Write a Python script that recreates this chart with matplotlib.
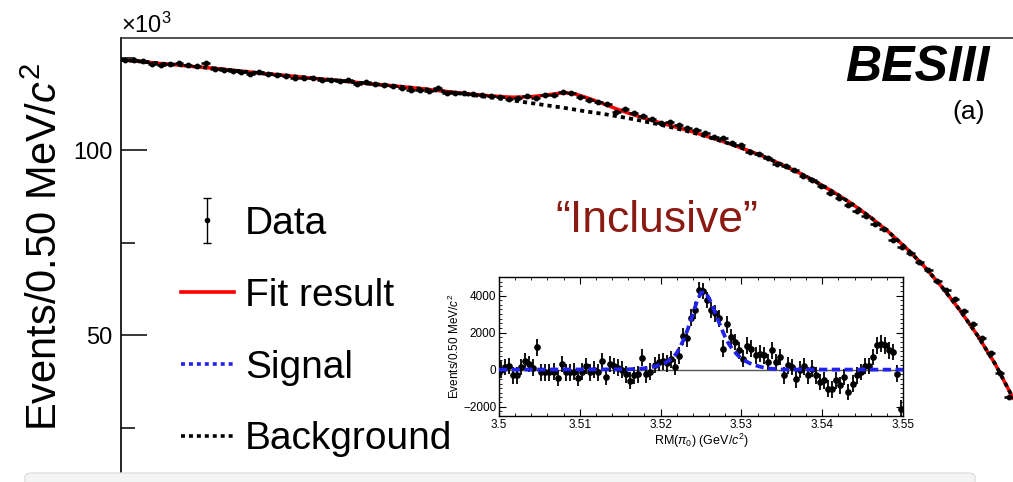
import numpy as np
import matplotlib
matplotlib.use('Agg')
import matplotlib.pyplot as plt
from matplotlib.lines import Line2D
from matplotlib.ticker import MultipleLocator, FuncFormatter
from matplotlib.legend_handler import HandlerErrorbar
from matplotlib.patches import FancyBboxPatch

plt.rcParams['font.family'] = ['Liberation Sans', 'DejaVu Sans']
plt.rcParams['mathtext.fontset'] = 'custom'
plt.rcParams['mathtext.rm'] = 'Liberation Sans'
plt.rcParams['mathtext.it'] = 'Liberation Sans:italic'
plt.rcParams['mathtext.bf'] = 'Liberation Sans:bold'

# 100 bins of 0.5 MeV between 3.50 and 3.55 GeV
x_lo = 3.50
bin_w = 0.0005
n_bins = 100

# main histogram, x10^3 events per bin
data_k = [124.3, 124.25, 124.1, 123.3, 123.1, 123.35, 123.45, 123.0, 122.6, 123.5,
          121.95, 121.65, 121.45, 121.2, 120.65, 121.1, 120.45, 120.25, 120.1, 119.45,
          119.6, 119.6, 119.05, 119.0, 118.65, 118.95, 117.9, 118.3, 118.0, 117.7,
          117.4, 116.85, 116.3, 116.3, 116.1, 116.7, 115.5, 115.35, 115.4, 115.25,
          115.0, 114.6, 114.45, 113.75, 113.95, 114.7, 114.2, 115.0, 115.0, 115.8,
          115.35, 114.46, 113.52, 113.04, 112.37, 110.34, 111.24, 110.07, 109.35, 108.4,
          107.4, 107.59, 106.84, 105.88, 105.32, 104.53, 103.42, 103.35, 101.92, 101.29,
          99.4, 99.04, 97.95, 96.18, 95.6, 94.68, 93.0, 92.05, 90.3, 88.53,
          87.12, 85.17, 83.43, 82.22, 80.05, 78.6, 75.69, 73.94, 72.1, 69.77,
          67.5, 64.7, 62.29, 59.82, 56.61, 53.02, 49.15, 45.16, 39.68, 33.2]
data_err_k = 0.45

# inset: data minus background (events)
resid = [0, 150, 200, -300, -300, 150, 450, 300, 100, 1200,
         -150, -150, -150, -100, -450, 300, -150, -150, -100, -450,
         -100, 200, -150, 0, -150, 450, -400, 300, 200, 100,
         0, -250, -600, -300, -250, 650, -250, -100, 250, 400,
         450, 350, 550, 150, 750, 1800, 1700, 2800, 3200, 4300,
         4250, 3760, 3220, 3040, 2770, 1140, 2440, 1770, 1500, 1050,
         600, 1290, 1140, 780, 870, 780, 420, 1050, 420, 690,
         -300, 235, 145, -520, 0, 180, -300, 50, -300, -670,
         -580, -1030, -1070, -580, -850, -400, -1210, -760, -300, -130,
         200, 200, 690, 1320, 1410, 1320, 1050, 960, -220, -2100]
resid_err = 450

# fitted curves on a grid (MeV above 3.50 GeV)
curve_mev = np.r_[0:16, 16:34.5:0.5, 35:51]
bkg_k = [124.4, 124.0, 123.5, 123.1, 122.6, 122.2, 121.7, 121.2, 120.7, 120.3,
         119.8, 119.3, 118.9, 118.4, 117.9, 117.5,
         117.0, 116.75, 116.5, 116.2, 115.9, 115.6, 115.3, 115.0, 114.7, 114.4,
         114.1, 113.75, 113.4, 113.05, 112.7, 112.35, 112.0, 111.65, 111.3, 110.9,
         110.5, 110.15, 109.8, 109.4, 109.0, 108.55, 108.1, 107.6, 107.1, 106.55,
         106.0, 105.4, 104.8, 104.1, 103.4, 102.65, 101.9,
         100.2, 98.3, 96.2, 93.9, 91.3, 88.5, 85.4, 81.9, 78.0, 73.6,
         68.7, 63.1, 56.9, 50.0, 42.2, 33.0]
fit_k = [124.4, 124.0, 123.5, 123.1, 122.6, 122.2, 121.7, 121.2, 120.7, 120.3,
         119.8, 119.3, 118.9, 118.4, 117.9, 117.5,
         117.02, 116.78, 116.54, 116.25, 115.98, 115.7, 115.45, 115.2, 114.97, 114.75,
         114.58, 114.4, 114.3, 114.35, 114.45, 114.7, 115.0, 115.35, 115.45, 115.1,
         114.35, 113.5, 112.6, 111.65, 110.75, 109.9, 109.15, 108.4, 107.7, 107.02,
         106.35, 105.67, 105.0, 104.24, 103.5, 102.71, 101.94,
         100.2, 98.3, 96.2, 93.9, 91.3, 88.5, 85.4, 81.9, 78.0, 73.6,
         68.7, 63.1, 56.9, 50.0, 42.2, 33.0]

sig_mev = np.r_[0, 16:34.5:0.5, 35, 50]
sig = [0,
       20, 30, 35, 50, 75, 100, 150, 200, 270, 350,
       480, 650, 900, 1300, 1750, 2350, 3000, 3700, 4150, 4200,
       3850, 3350, 2800, 2250, 1750, 1350, 1050, 800, 600, 470,
       350, 270, 200, 140, 100, 60, 40,
       10, 0]

centers = x_lo + bin_w * (np.arange(n_bins) + 0.5)
cx = x_lo + curve_mev / 1000.0
sx = x_lo + sig_mev / 1000.0

W, H = 1013, 482
fig = plt.figure(figsize=(W / 100, H / 100), dpi=100)

# ---------------- main panel ----------------
ax = fig.add_axes([121 / W, 0, 892 / W, 1 - 38 / H])
ax.plot(cx, fit_k, color='#ff0000', lw=2.5, zorder=2)
ax.plot(cx, bkg_k, color='k', lw=2.7, ls=(0, (1.1, 1.1)), zorder=3)
ax.errorbar(centers, data_k, xerr=bin_w / 2, yerr=data_err_k, fmt='o', ms=3.2,
            color='k', elinewidth=1.8, capsize=0, zorder=4)

ax.set_xlim(3.50, 3.55)
ax.set_ylim(10.3, 130.3)
ax.yaxis.set_major_locator(MultipleLocator(50))
ax.yaxis.set_minor_locator(MultipleLocator(25))
ax.tick_params(axis='y', which='major', direction='in', length=19, width=1.1,
               labelsize=17, pad=6)
ax.tick_params(axis='y', which='minor', direction='in', length=10, width=1.1)
ax.tick_params(axis='x', which='both', bottom=False, top=False, labelbottom=False)
ax.spines['right'].set_visible(False)
ax.spines['bottom'].set_visible(False)
ax.spines['left'].set_linewidth(1.2)
ax.spines['top'].set_linewidth(1.2)
ax.spines['top'].set_color('#333333')
ax.set_ylabel(r'Events/0.50 MeV/$c^2$', fontsize=30)
ax.yaxis.set_label_coords(-0.062, 0.53)

# legend proxies
h_data = ax.errorbar([np.nan], [np.nan], yerr=[1], fmt='o', ms=3, color='k',
                     capsize=3, elinewidth=1)
h_fit = Line2D([], [], color='#ff0000', lw=2.6)
h_sig = Line2D([], [], color='#2222ee', lw=2.6, ls=(0, (1.1, 1.1)))
h_bkg = Line2D([], [], color='k', lw=2.6, ls=(0, (1.1, 1.1)))
ax.legend([h_data, h_fit, h_sig, h_bkg], ['Data', 'Fit result', 'Signal', 'Background'],
          handler_map={h_data: HandlerErrorbar(xerr_size=0.2, yerr_size=0.58)},
          loc='upper left', bbox_to_anchor=(181 / W, 1 - 206 / H),
          bbox_transform=fig.transFigure, frameon=False, fontsize=28,
          handlelength=1.35, handletextpad=0.3, labelspacing=0.92,
          borderpad=0, borderaxespad=0)

fig.text(121 / W, 1 - 33 / H, r'$\times$10$^{3}$', fontsize=17, va='baseline', ha='left')
fig.text(990 / W, 1 - 81 / H, 'BESIII', fontsize=36, fontweight='bold',
         fontstyle='italic', ha='right', va='baseline')
fig.text(985 / W, 1 - 119 / H, '(a)', fontsize=19, ha='right', va='baseline')
fig.text(555 / W, 1 - 232 / H, '\u201cInclusive\u201d', fontsize=32, color='#8b1a12',
         ha='left', va='baseline')

# ---------------- inset ----------------
ax2 = fig.add_axes([499 / W, 1 - 416 / H, 404 / W, 139 / H])
ax2.axhline(0, color='#555555', lw=1, zorder=1)
ax2.errorbar(centers, resid, yerr=resid_err, fmt='o', ms=3.8, color='k',
             elinewidth=1.3, capsize=0, zorder=2)
ax2.plot(sx, sig, color='#2222ee', lw=2.7, ls=(0, (2.2, 1.2)), zorder=3)
ax2.set_xlim(3.50, 3.55)
ax2.set_ylim(-2500, 5000)
ax2.xaxis.set_major_locator(MultipleLocator(0.01))
ax2.xaxis.set_minor_locator(MultipleLocator(0.002))
ax2.yaxis.set_major_locator(MultipleLocator(2000))
ax2.yaxis.set_minor_locator(MultipleLocator(250))
ax2.xaxis.set_major_formatter(FuncFormatter(lambda v, p: f'{v:g}'))
ax2.tick_params(which='both', direction='in', top=True, right=True, labelsize=8.5, pad=2)
ax2.tick_params(which='major', length=5, width=0.8)
ax2.tick_params(which='minor', length=2.5, width=0.6)
for s in ax2.spines.values():
    s.set_linewidth(1.0)
ax2.set_ylabel(r'Events/0.50 MeV/$c^2$', fontsize=8.5, labelpad=1)
ax2.set_xlabel(r'RM($\pi_0$) (GeV/$c^2$)', fontsize=9, labelpad=1)

# light grey strip along the bottom edge of the screenshot
band = FancyBboxPatch((25 / W, -0.05), 950 / W, 0.05 + 9 / H,
                      boxstyle='round,pad=0,rounding_size=0.008',
                      transform=fig.transFigure, facecolor='#f3f5f5',
                      edgecolor='#dedede', lw=1, zorder=10)
fig.add_artist(band)

fig.savefig('out.png', dpi=100)
